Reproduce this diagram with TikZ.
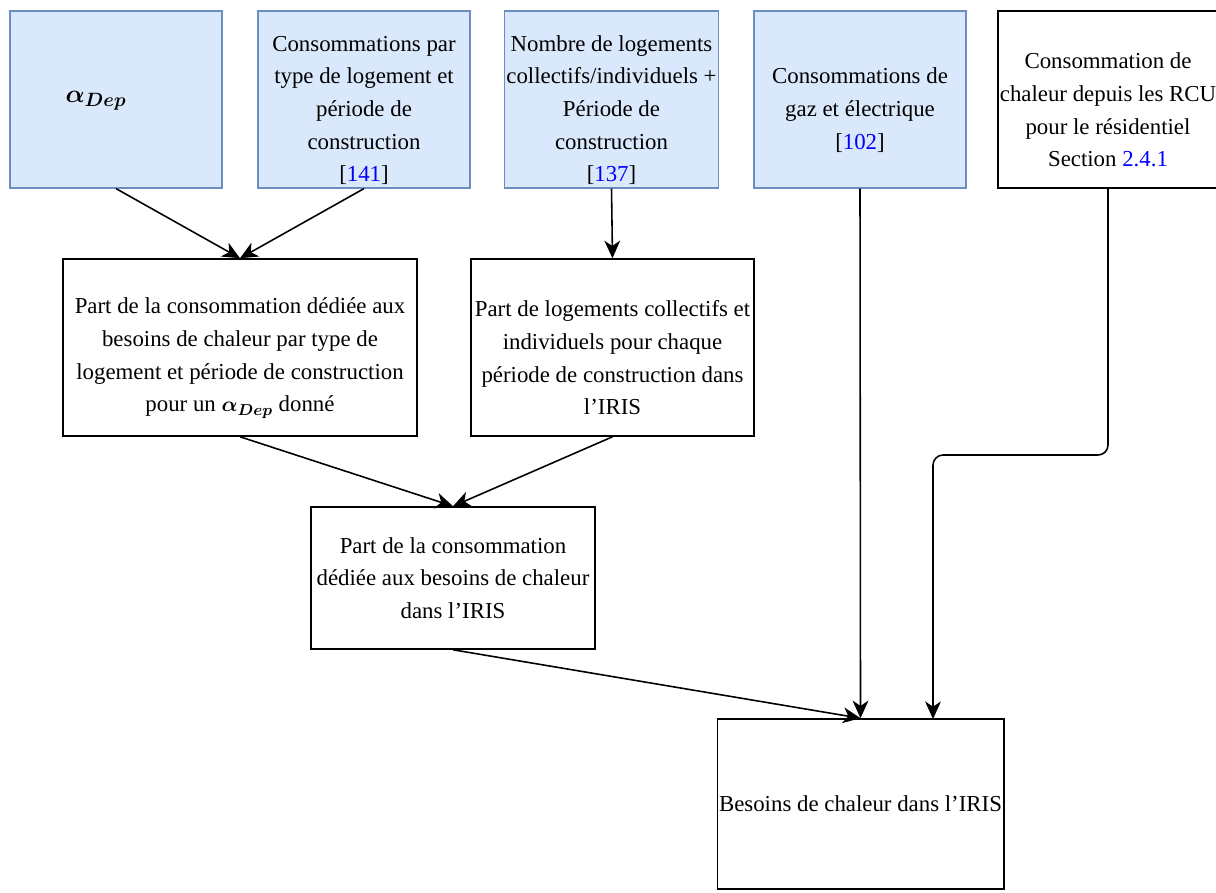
\documentclass[tikz,border=0pt]{standalone}
\usepackage{amsmath,bm}
\usepackage{fontspec}
\setmainfont{Liberation Serif}
\usepackage{xcolor}
\usetikzlibrary{arrows.meta}
\definecolor{src-fill}{HTML}{DAE8FC}
\definecolor{src-line}{HTML}{6C8EBF}
\definecolor{ref-blue}{HTML}{0000FF}
\newcommand{\citeref}[1]{[\textcolor{ref-blue}{#1}]}
\newcommand{\topgap}{\rule{0pt}{21pt}}

\begin{document}
\begin{tikzpicture}[x=0.02cm, y=-0.02cm,
    every node/.style={font=\fontsize{13}{18.6}\selectfont},
    srcbox/.style={draw=src-line, line width=0.7pt, fill=src-fill,
      minimum width=4.24cm, minimum height=3.54cm, align=center, inner sep=1pt},
    stepbox/.style={draw, line width=0.9pt, fill=white, align=center, inner sep=1pt},
    flow/.style={-{Stealth[length=10pt,width=9pt,inset=3pt]}, line width=0.9pt}]
    \useasboundingbox (0,0) rectangle (1216,892);
    % sources
    \node[srcbox] (alpha) at (116, 99.5) {};
    \node[font=\fontsize{15}{18}\selectfont] (alphalbl) at (96, 101) {{\boldmath$\alpha_{Dep}$}};
    \node[srcbox] (conso) at (364, 99.5) {\topgap Consommations par\\type de logement et\\période de\\construction\\\citeref{141}};
    \node[srcbox] (nbrlog) at (611.5, 99.5) {\topgap Nombre de logements\\collectifs/individuels +\\Période de\\construction\\\citeref{137}};
    \node[srcbox] (gazelec) at (860, 99.5) {\topgap Consommations de\\gaz et électrique\\\citeref{102}};
    \node[stepbox, minimum width=4.24cm, minimum height=3.54cm] (rcu) at (1108, 99.5)
      {\topgap Consommation de\\chaleur depuis les RCU\\pour le résidentiel\\Section \textcolor{ref-blue}{2.4.1}};
    % intermediate steps
    \node[stepbox, minimum width=7.08cm, minimum height=3.54cm] (partconso) at (240, 347.5)
      {\topgap Part de la consommation dédiée aux\\besoins de chaleur par type de\\logement et période de construction\\pour un {\boldmath$\alpha_{Dep}$} donné};
    \node[stepbox, minimum width=5.66cm, minimum height=3.54cm] (partlog) at (612.5, 347.5)
      {\topgap Part de logements collectifs et\\individuels pour chaque\\période de construction dans\\l’IRIS};
    \node[stepbox, minimum width=5.68cm, minimum height=2.84cm] (partiris) at (453, 578)
      {Part de la consommation\\dédiée aux besoins de chaleur\\dans l’IRIS};
    \node[stepbox, minimum width=5.66cm, minimum height=3.4cm] (besoins) at (860.5, 804)
      {Besoins de chaleur dans l’IRIS};
    \coordinate (fin) at (933, 719);
    % connectors
    \draw[flow] (alpha.south) -- (partconso.north);
    \draw[flow] (conso.south) -- (partconso.north);
    \draw[flow] (nbrlog.south) -- (partlog.north);
    \draw[flow] (partconso.south) -- (partiris.north);
    \draw[flow] (partlog.south) -- (partiris.north);
    \draw[flow] (partiris.south) -- (besoins.north);
    \draw[flow] (gazelec.south) -- (besoins.north);
    \draw[flow, rounded corners=0.2cm] (rcu.south) |- (933, 455) -- (fin);
\end{tikzpicture}
\end{document}
